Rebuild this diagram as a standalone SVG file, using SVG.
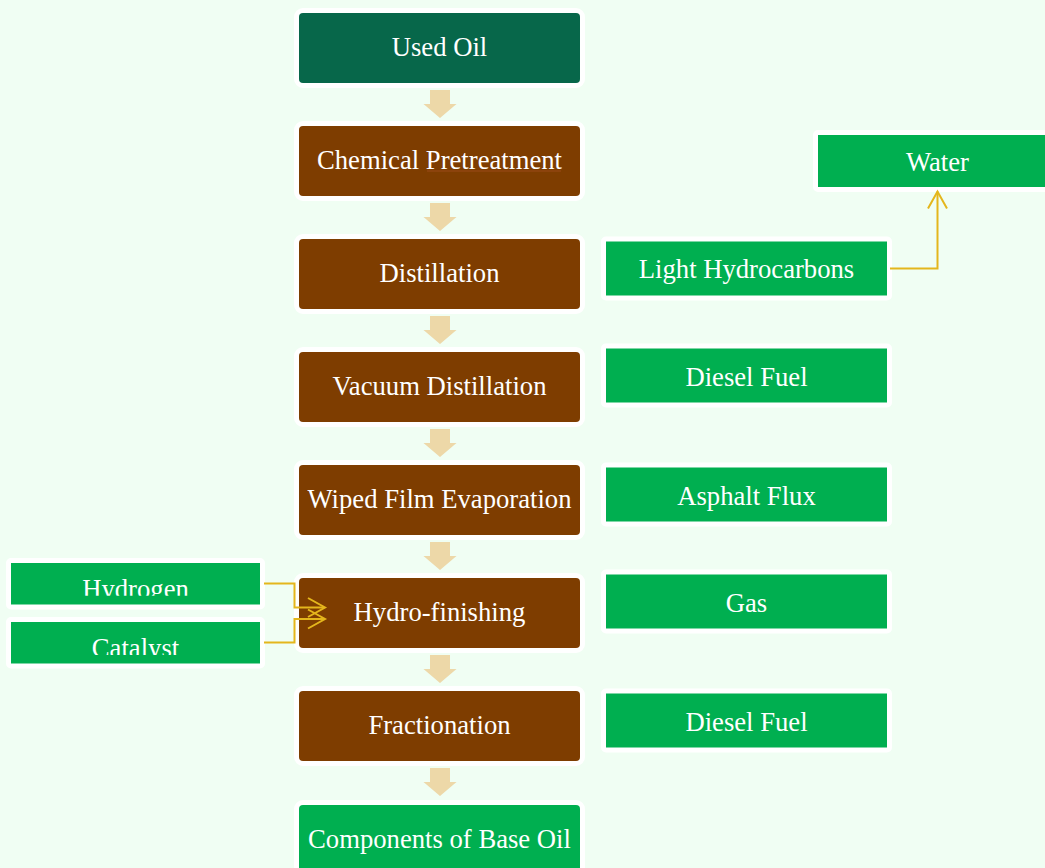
<svg xmlns="http://www.w3.org/2000/svg" width="1045" height="868" viewBox="0 0 1045 868">
<style>
.bg{fill:#F0FEF3}
.box{stroke:#FFFFFF;stroke-width:10;paint-order:stroke;stroke-linejoin:round}
.dg{fill:#07674A}
.br{fill:#7E3D00}
.gr{fill:#00AF50}
.t{font-family:"Liberation Serif","Times New Roman",serif;font-size:26.67px;fill:#FFFFFF;text-anchor:middle}
.blk{fill:#EDD8A8}
.con{fill:none;stroke:#E4B61C;stroke-width:2}
</style>
<defs>
<clipPath id="clipH"><rect x="0" y="550" width="270" height="45.7"/></clipPath>
<clipPath id="clipC"><rect x="0" y="610" width="270" height="45"/></clipPath>
</defs>
<rect class="bg" x="0" y="0" width="1045" height="868"/>

<g id="n-used-oil"><rect class="box dg" x="299" y="13" width="281" height="70" rx="4"/><text class="t" x="439.5" y="56">Used Oil</text></g>
<g id="n-chemical"><rect class="box br" x="299" y="126" width="281" height="70" rx="4"/><text class="t" x="439.5" y="169">Chemical Pretreatment</text><line x1="427" y1="171" x2="561" y2="171" stroke="#C8603C" stroke-width="0.8" opacity="0.5"/></g>
<g id="n-distillation"><rect class="box br" x="299" y="239" width="281" height="70" rx="4"/><text class="t" x="439.5" y="282">Distillation</text></g>
<g id="n-vacuum"><rect class="box br" x="299" y="352" width="281" height="70" rx="4"/><text class="t" x="439.5" y="395">Vacuum Distillation</text></g>
<g id="n-wiped"><rect class="box br" x="299" y="465" width="281" height="70" rx="4"/><text class="t" x="439.5" y="508">Wiped Film Evaporation</text></g>
<g id="n-hydrofinishing"><rect class="box br" x="299" y="578" width="281" height="70" rx="4"/><text class="t" x="439.5" y="621">Hydro-finishing</text></g>
<g id="n-fractionation"><rect class="box br" x="299" y="691" width="281" height="70" rx="4"/><text class="t" x="439.5" y="734">Fractionation</text></g>
<g id="n-components"><rect class="box gr" x="299" y="805" width="281" height="80" rx="4"/><text class="t" x="439.5" y="847.5">Components of Base Oil</text></g>

<g id="n-water"><rect class="box gr" x="818" y="135" width="240" height="52"/><text class="t" x="937.5" y="171">Water</text></g>
<g id="n-light"><rect class="box gr" x="606" y="241.5" width="281" height="54"/><text class="t" x="746.5" y="278">Light Hydrocarbons</text></g>
<g id="n-diesel1"><rect class="box gr" x="606" y="348.5" width="281" height="54"/><text class="t" x="746.5" y="385.5">Diesel Fuel</text></g>
<g id="n-asphalt"><rect class="box gr" x="606" y="467.5" width="281" height="54"/><text class="t" x="746.5" y="504.5">Asphalt Flux</text></g>
<g id="n-gas"><rect class="box gr" x="606" y="574.5" width="281" height="54"/><text class="t" x="746.5" y="611.5">Gas</text></g>
<g id="n-diesel2"><rect class="box gr" x="606" y="693.5" width="281" height="54"/><text class="t" x="746.5" y="730.5">Diesel Fuel</text></g>
<g id="n-hydrogen"><rect class="box gr" x="11" y="563" width="249" height="41.5"/><text class="t" x="135.5" y="597.5" clip-path="url(#clipH)">Hydrogen</text></g>
<g id="n-catalyst"><rect class="box gr" x="11" y="622" width="249" height="41.5"/><text class="t" x="135.5" y="657" clip-path="url(#clipC)">Catalyst</text></g>

<g id="connectors">
<path class="blk" d="M430,90H450V104H456.5L440,118L423.5,104H430Z"/>
<path class="blk" d="M430,203H450V217H456.5L440,231L423.5,217H430Z"/>
<path class="blk" d="M430,316H450V330H456.5L440,344L423.5,330H430Z"/>
<path class="blk" d="M430,429H450V443H456.5L440,457L423.5,443H430Z"/>
<path class="blk" d="M430,542H450V556H456.5L440,570L423.5,556H430Z"/>
<path class="blk" d="M430,655H450V669H456.5L440,683L423.5,669H430Z"/>
<path class="blk" d="M430,768H450V782H456.5L440,796L423.5,782H430Z"/>
<path class="con" d="M890,268.5H937.5V191.5"/>
<path class="con" d="M928,208.5L937.5,191.5L947,208.5"/>
<path class="con" d="M264,583.5H294.5V607.5H324"/>
<path class="con" d="M308,598L325,607.5L308,617"/>
<path class="con" d="M264,642.5H294.5V619H324"/>
<path class="con" d="M308,609.5L325,619L308,628.5"/>
</g>
</svg>
